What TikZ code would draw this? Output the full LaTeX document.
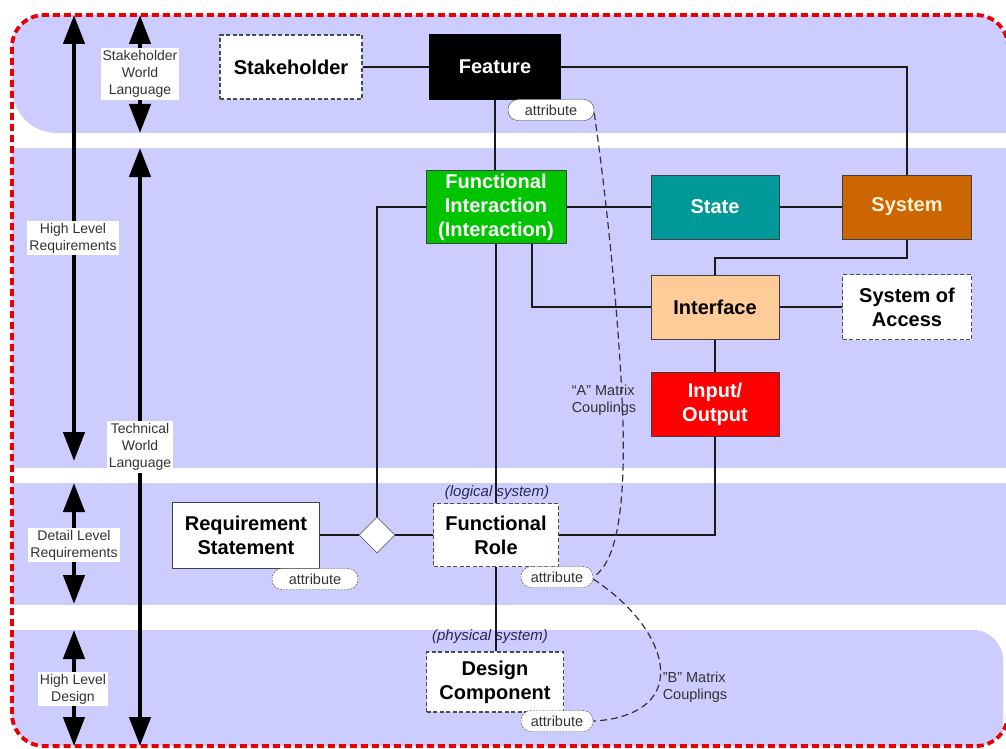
\documentclass[tikz,border=0pt]{standalone}
\usepackage{fontspec}
\setmainfont{Liberation Sans}
\usetikzlibrary{arrows.meta,shapes.geometric}
\definecolor{bandcol}{RGB}{204,204,255}
\definecolor{bordred}{RGB}{230,0,0}
\definecolor{figreen}{RGB}{0,196,0}
\definecolor{stateteal}{RGB}{0,153,153}
\definecolor{sysorange}{RGB}{204,102,0}
\definecolor{intfpeach}{RGB}{255,204,153}
\definecolor{iored}{RGB}{255,0,0}
\definecolor{txtgray}{RGB}{51,51,51}
\definecolor{txtnavy}{RGB}{40,40,80}
\definecolor{cream}{RGB}{255,242,215}
\newcommand\bigfnt{\fontsize{20}{24}\selectfont\bfseries}
\newcommand\smallfnt{\fontsize{14}{17}\selectfont}
\begin{document}
\begin{tikzpicture}[x=1pt,y=-1pt,
  box/.style={draw=black!75, line width=1pt, inner sep=0pt, align=center, font=\bigfnt},
  dbox/.style={box, fill=white, draw=black!70, dash pattern=on 4pt off 2.5pt, line width=1.1pt},
  attr/.style={draw=black!75, fill=white, rounded corners=10pt, minimum width=86pt, minimum height=21pt,
    inner sep=0pt, font=\fontsize{14.5}{17}\selectfont, text=txtgray},
  dattr/.style={attr, dash pattern=on 2pt off 1.2pt},
  conn/.style={line width=2pt, draw=black!90},
  coupling/.style={line width=1.2pt, draw=txtgray, dash pattern=on 7pt off 4pt},
  bigarrow/.style={line width=4.5pt, {Triangle[width=21pt,length=29pt]}-{Triangle[width=21pt,length=29pt]}},
  lvl/.style={fill=white, inner sep=2pt, align=center, font=\smallfnt, text=txtgray},
  sysnote/.style={font=\fontsize{15}{18}\selectfont\itshape, text=txtnavy},
  mnote/.style={align=left, font=\fontsize{14.5}{17}\selectfont, text=txtgray}]
\useasboundingbox (0,0) rectangle (1006,749);

% bands
\begin{scope}
  \clip[rounded corners=32pt] (12,15) rectangle (1008,746);
  \fill[bandcol, rounded corners=45pt] (12,-60) rectangle (1080,133);
  \fill[bandcol] (0,148) rectangle (1080,468);
  \fill[bandcol] (0,483) rectangle (1080,605);
  \fill[bandcol, rounded corners=30pt] (-60,630) rectangle (1003,800);
\end{scope}
\draw[bordred, line width=3.8pt, dash pattern=on 7pt off 4pt, rounded corners=32pt] (12,15) rectangle (1008,746);

% level arrows
\coordinate (a1) at (74,15);  \coordinate (a2) at (74,461);
\coordinate (b1) at (140,15); \coordinate (b2) at (140,133);
\coordinate (c1) at (140,148); \coordinate (c2) at (140,746);
\coordinate (d1) at (74,483); \coordinate (d2) at (74,604);
\coordinate (e1) at (74,630); \coordinate (e2) at (74,746);
\draw[bigarrow] (a1) -- (a2);
\draw[bigarrow] (b1) -- (b2);
\draw[bigarrow] (c1) -- (c2);
\draw[bigarrow] (d1) -- (d2);
\draw[bigarrow] (e1) -- (e2);
\node[lvl] (lhlr) at (73,238) {High Level\\Requirements};
\node[lvl] (lswl) at (140,74) {Stakeholder\\World\\Language};
\node[lvl] (ltwl) at (140,447) {Technical\\World\\Language};
\node[lvl] (ldlr) at (74,545) {Detail Level\\Requirements};
\node[lvl] (lhld) at (73,689) {High Level\\Design};

% nodes
\node[dbox, minimum width=142pt, minimum height=64pt] (stake) at (291,67) {Stakeholder};
\node[box, fill=black, draw=black, text=white, minimum width=131pt, minimum height=65pt] (feat) at (495,67) {Feature};
\node[attr] (attrF) at (551,110) {attribute};
\node[box, fill=figreen, text=white, minimum width=140pt, minimum height=73pt] (fi) at (496,207) {Functional\\Interaction\\(Interaction)};
\node[box, fill=stateteal, text=white, minimum width=128pt, minimum height=64pt] (state) at (715,207) {State};
\node[box, fill=sysorange, text=cream, minimum width=129pt, minimum height=64pt] (sys) at (907,207) {System};
\node[box, fill=intfpeach, text=black, minimum width=128pt, minimum height=64pt] (intf) at (715,307) {Interface};
\node[dbox, minimum width=129pt, minimum height=65pt] (soa) at (907,307) {System of\\Access};
\node[box, fill=iored, text=white, minimum width=128pt, minimum height=64pt] (io) at (715,404) {Input/\\Output};
\node[box, fill=white, minimum width=147pt, minimum height=66pt] (req) at (246,535) {Requirement\\Statement};
\node[dattr] (attrR) at (315,579) {attribute};
\node[diamond, draw=black!60, fill=white, line width=0.8pt, minimum width=36pt, minimum height=36pt, inner sep=0pt] (dia) at (377,535) {};
\node[dbox, minimum width=125pt, minimum height=63pt] (fr) at (496,535) {Functional\\Role};
\node[dattr, minimum width=72pt] (attrFR) at (557,577) {attribute};
\node[dbox, minimum width=137pt, minimum height=60pt] (dc) at (495,682) {Design\\Component};
\node[dattr, minimum width=72pt] (attrDC) at (557,721) {attribute};
\node[sysnote] (logs) at (497,493) {(logical system)};
\node[sysnote] (phys) at (490,637) {(physical system)};

% connectors
\coordinate (k) at (907,258);
\draw[conn] (stake.east) -- (feat.west);
\draw[conn] (feat.east) -| (sys.north);
\draw[conn] (feat.south) -- (feat.south |- fi.north);
\draw[conn] (fi.west) -| (dia.north);
\draw[conn] (fi.east) -- (state.west);
\draw[conn] (state.east) -- (sys.west);
\draw[conn] (fi.south) -- (fi.south |- fr.north);
\draw[conn] ([xshift=36pt]fi.south) |- (intf.west);
\draw[conn] (sys.south) -- (k) -| (intf.north);
\draw[conn] (intf.east) -- (soa.west);
\draw[conn] (intf.south) -- (io.north);
\draw[conn] (io.south) |- (fr.east);
\draw[conn] (req.east) -- (dia.west);
\draw[conn] (dia.east) -- (fr.west);
\draw[conn] (fr.south) -- (fr.south |- dc.north);

% couplings
\draw[coupling] ([yshift=-3pt]attrF.east) .. controls (607,200) and (626,380) .. (623,470)
  .. controls (621,530) and (612,565) .. (attrFR.east);
\draw[coupling] ([yshift=-2pt]attrFR.east) .. controls (640,610) and (665,650) .. (660,680)
  .. controls (655,710) and (620,720) .. (attrDC.east);
\node[mnote] (ma) at (604,400) {“A” Matrix\\Couplings};
\node[mnote] (mb) at (695,687) {"B" Matrix\\Couplings};
\end{tikzpicture}
\end{document}
